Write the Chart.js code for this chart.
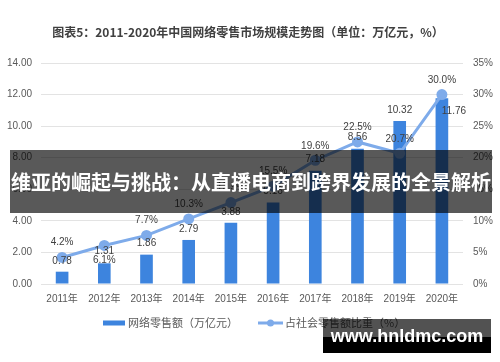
<!DOCTYPE html>
<html><head><meta charset="utf-8">
<script src="https://cdn.jsdelivr.net/npm/chart.js@4.4.1/dist/chart.umd.min.js"></script>
<style>
html,body{margin:0;padding:0;background:#fff;}
#wrap{position:relative;width:500px;height:362px;overflow:hidden;}
#c{position:absolute;left:0;top:0;}
#banner{position:absolute;left:10px;top:150px;width:482px;height:63px;background:rgba(0,0,0,0.65);color:#fff;font:bold 20px "Noto Sans CJK SC",sans-serif;display:flex;align-items:center;justify-content:center;white-space:nowrap;}
#wm{position:absolute;left:323px;top:319px;width:168px;height:34px;background:linear-gradient(to bottom,rgba(0,0,0,0.68) 0,rgba(0,0,0,0.68) 52%,#000 52%,#000 100%);color:#fff;font:bold 18px "Liberation Sans",sans-serif;display:flex;align-items:center;justify-content:center;white-space:nowrap;}
</style></head>
<body><div id="wrap"><canvas id="c" width="500" height="362"></canvas>
<div id="banner">维亚的崛起与挑战：从直播电商到跨界发展的全景解析</div>
<div id="wm">www.hnldmc.com</div></div>
<script>
const titleText = '图表5：2011-2020年中国网络零售市场规模走势图（单位：万亿元，%）';
const years = ['2011年','2012年','2013年','2014年','2015年','2016年','2017年','2018年','2019年','2020年'];
const salesName = '网络零售额（万亿元）';
const shareName = '占社会零售额比重（%）';
const sales = [0.78, 1.31, 1.86, 2.79, 3.88, 5.16, 7.18, 8.56, 10.32, 11.76];
const share = [4.2, 6.1, 7.7, 10.3, 12.9, 15.5, 19.6, 22.5, 20.7, 30.0];

// label placement (styling, not data)
const barLabelOffset = [[0,-10],[0,-12],[0,-11],[0,-11],[0,-11],[0,-11],[0,-11],[0,-12],[0,-11],[12,13]];
const lineLabelOffset = [[0,-15],[0,15],[0,-15],[0,-15],[0,-15],[0,-15],[0,-14],[0,-15],[0,-14],[0,-14]];

const BAR = '#3D84DE';
const LINE = '#7EABEA';
const TXT = '#404040';
const NUMFONT = '10px "Liberation Sans", Arial, sans-serif';

const extras = {
  id: 'extras',
  afterDatasetsDraw(chart) {
    const ctx = chart.ctx;
    ctx.save();
    ctx.font = NUMFONT;
    ctx.fillStyle = TXT;
    ctx.textAlign = 'center';
    ctx.textBaseline = 'middle';
    chart.getDatasetMeta(0).data.forEach((el, i) => {
      const o = barLabelOffset[i];
      ctx.fillText(sales[i].toFixed(2), el.x + o[0], el.y + o[1]);
    });
    chart.getDatasetMeta(1).data.forEach((el, i) => {
      const o = lineLabelOffset[i];
      ctx.fillText(share[i].toFixed(1) + '%', el.x + o[0], el.y + o[1]);
    });
    ctx.restore();
  },
  afterDraw(chart) {
    const ctx = chart.ctx;
    ctx.save();
    // title
    ctx.font = 'bold 12px "Noto Sans CJK SC", sans-serif';
    ctx.fillStyle = '#404040';
    ctx.textAlign = 'center';
    ctx.textBaseline = 'middle';
    ctx.fillText(titleText, 248, 32);
    // legend
    const ly = 323;
    ctx.fillStyle = BAR;
    ctx.fillRect(103, ly - 2.5, 22, 5);
    ctx.font = '11px "Noto Sans CJK SC", sans-serif';
    ctx.fillStyle = '#595959';
    ctx.textAlign = 'left';
    ctx.fillText(salesName, 128, ly);
    ctx.strokeStyle = LINE;
    ctx.lineWidth = 3;
    ctx.beginPath(); ctx.moveTo(258, ly); ctx.lineTo(283, ly); ctx.stroke();
    ctx.fillStyle = LINE;
    ctx.beginPath(); ctx.arc(270.5, ly, 3.5, 0, Math.PI * 2); ctx.fill();
    ctx.fillStyle = '#595959';
    ctx.fillText(shareName, 285, ly);
    ctx.restore();
  }
};

new Chart(document.getElementById('c'), {
  type: 'bar',
  data: {
    labels: years,
    datasets: [
      { type: 'bar', label: salesName, data: sales, backgroundColor: BAR, yAxisID: 'y', order: 2,
        categoryPercentage: 1.0, barPercentage: 0.3 },
      { type: 'line', label: shareName, data: share, borderColor: LINE, backgroundColor: LINE,
        borderWidth: 3, pointRadius: 4, pointBackgroundColor: LINE, pointBorderColor: LINE,
        yAxisID: 'y1', order: 1, tension: 0 }
    ]
  },
  options: {
    responsive: false,
    animation: false,
    devicePixelRatio: 1,
    layout: { padding: { top: 63, bottom: 56, left: 0, right: 0 } },
    plugins: { legend: { display: false }, title: { display: false }, tooltip: { enabled: false } },
    scales: {
      x: {
        grid: { display: false, drawTicks: false },
        border: { display: false },
        ticks: { color: '#595959', font: { family: '"Liberation Sans", "Noto Sans CJK SC", sans-serif', size: 10 }, padding: 9, maxRotation: 0 },
        afterFit(s) { s.height = 22; }
      },
      y: {
        position: 'left', min: 0, max: 14,
        ticks: { stepSize: 2, color: '#595959', font: { family: '"Liberation Sans", sans-serif', size: 10 }, padding: 9,
          callback: v => v.toFixed(2) },
        grid: { color: '#E3E3E3', drawTicks: false, lineWidth: 1 },
        border: { display: false },
        afterFit(s) { s.width = 41; }
      },
      y1: {
        position: 'right', min: 0, max: 35,
        ticks: { stepSize: 5, color: '#595959', font: { family: '"Liberation Sans", sans-serif', size: 10 }, padding: 10,
          callback: v => v + '%' },
        grid: { display: false, drawTicks: false },
        border: { display: false },
        afterFit(s) { s.width = 37; }
      }
    }
  },
  plugins: [extras]
});
</script></body></html>
